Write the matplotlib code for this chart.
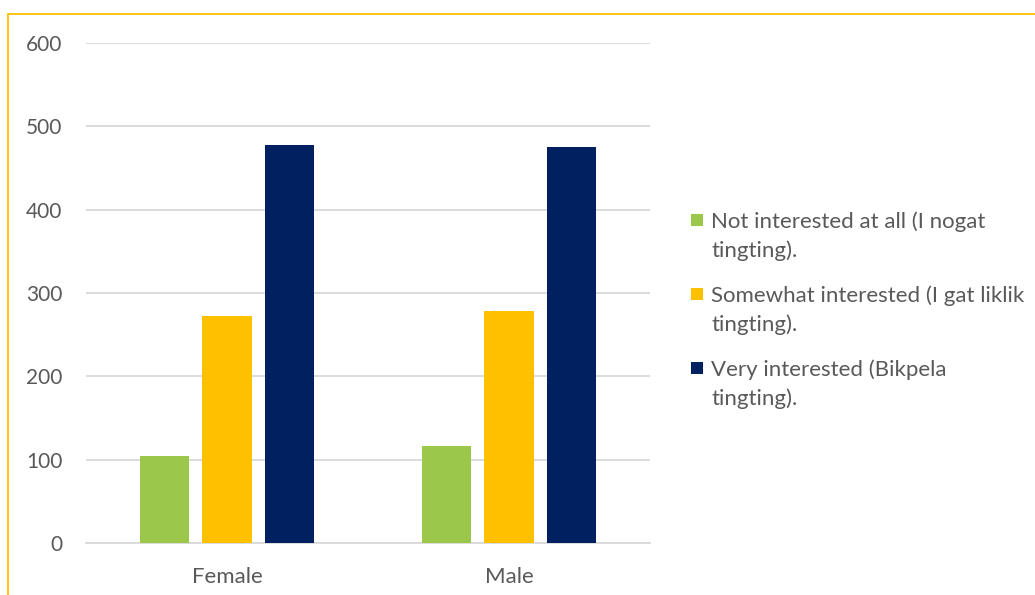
import matplotlib
matplotlib.use("Agg")
from matplotlib import pyplot as plt
from matplotlib.patches import Rectangle
import numpy as np

plt.rcParams['font.family'] = ['Lato', 'DejaVu Sans']

genders = ["Female", "Male"]
series_names = [
    "Not interested at all (I nogat\ntingting).",
    "Somewhat interested (I gat liklik\ntingting).",
    "Very interested (Bikpela\ntingting).",
]
not_interested = [105, 117]
somewhat_interested = [273, 278]
very_interested = [478, 475]
y_ticks = [0, 100, 200, 300, 400, 500, 600]

series_values = [not_interested, somewhat_interested, very_interested]
series_colors = ["#9bc74a", "#ffc000", "#002060"]

TEXT_COLOR = "#595959"
GRID_COLOR = "#d9d9d9"
W, H = 1035, 595

fig = plt.figure(figsize=(10.35, 5.95), dpi=100)
ax = fig.add_axes([86 / W, 1 - 543 / H, 564 / W, 500 / H])

# yellow frame, cut off at the right and bottom edges
fig.patches.append(Rectangle((8 / W, -0.05), 1.1, 1 - 14 / H + 0.05,
                             transform=fig.transFigure, fill=False,
                             edgecolor="#ffc000", linewidth=1.3))

x = np.arange(len(genders))
bar_width = 0.174
step = 0.223
for i, (values, color) in enumerate(zip(series_values, series_colors)):
    ax.bar(x + (i - 1) * step, values, width=bar_width, color=color,
           zorder=3)

ax.set_xlim(-0.5, 1.5)
ax.set_ylim(0, 600)
ax.set_yticks(y_ticks)
ax.set_xticks(x)
ax.set_xticklabels(genders)
ax.yaxis.grid(True, color=GRID_COLOR, linewidth=1.3, zorder=0)
ax.set_axisbelow(True)
for side in ["top", "right", "left"]:
    ax.spines[side].set_visible(False)
ax.spines["bottom"].set_color(GRID_COLOR)
ax.spines["bottom"].set_linewidth(1.3)
ax.tick_params(axis="both", length=0, colors=TEXT_COLOR)
ax.tick_params(axis="y", pad=17, labelsize=15)
ax.tick_params(axis="x", pad=17, labelsize=16)

# legend drawn by hand: square swatch + two-line label per series
entry_pitch = 74
for i, (name, color) in enumerate(zip(series_names, series_colors)):
    first_line_y = 220 + i * entry_pitch
    fig.patches.append(Rectangle((691 / W, 1 - (first_line_y + 6) / H),
                                 12 / W, 12 / H,
                                 transform=fig.transFigure,
                                 facecolor=color, edgecolor="none"))
    fig.text(711 / W, 1 - (first_line_y + 16) / H, name, fontsize=16,
             color=TEXT_COLOR, va="center", ha="left", linespacing=1.5)

fig.savefig("out.png", dpi=100)
